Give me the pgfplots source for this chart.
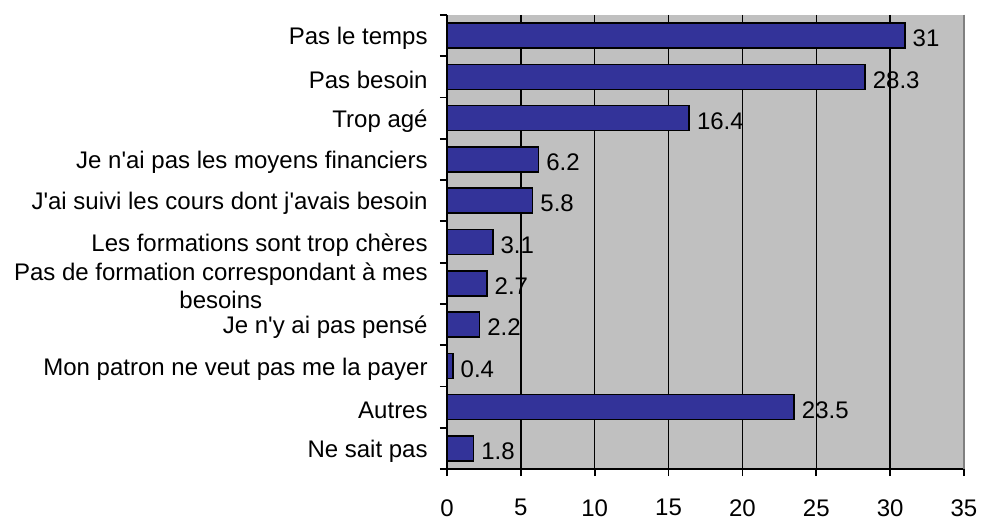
\documentclass[border=0pt]{standalone}
\usepackage{pgfplots}
\pgfplotsset{compat=1.18}
\usepackage{fontspec}
\setmainfont{Liberation Sans}
\definecolor{barblue}{HTML}{333399}
\definecolor{bgray}{HTML}{C0C0C0}
\definecolor{edgegray}{HTML}{808080}
\newcommand{\lbl}{\fontsize{12pt}{14pt}\selectfont}
\begin{document}
\begin{tikzpicture}
\useasboundingbox (-223.5pt,-25pt) rectangle (267pt,234.5pt);
\begin{axis}[
  at={(0,0)}, anchor=south west,
  scale only axis, width=258.5pt, height=227pt,
  xbar, bar width=12.5pt,
  xmin=0, xmax=35, ymin=-0.5, ymax=10.5, y dir=reverse,
  axis background/.style={fill=bgray},
  xtick={0,5,...,35},
  minor xtick={0,5,...,35},
  ytick={0,...,10},
  minor ytick={-0.5,0.5,...,10.5},
  yticklabels={Pas le temps, Pas besoin, Trop agé, Je n\textquotesingle ai pas les moyens financiers, J\textquotesingle ai suivi les cours dont j\textquotesingle avais besoin, Les formations sont trop chères, {Pas de formation correspondant à mes\\besoins}, Je n\textquotesingle y ai pas pensé, Mon patron ne veut pas me la payer, Autres, Ne sait pas},
  major tick length=0pt,
  minor tick length=3.5pt,
  tick align=outside,
  tick style={black, line width=0.9pt},
  axis x line*=bottom, axis y line*=left,
  axis line style={black, line width=1pt},
  xmajorgrids=true,
  major grid style={black, line width=0.75pt},
  /pgf/number format/assume math mode=true,
  yticklabel style={font=\lbl, anchor=east, align=center, inner sep=0pt, xshift=-9.5pt, yshift=-1.5pt},
  xticklabel style={font=\lbl, anchor=north, inner sep=0pt, yshift=-15pt},
  nodes near coords,
  nodes near coords style={font=\lbl, anchor=west, inner sep=0pt, xshift=3.5pt, yshift=-1.5pt, black},
  clip=false,
]
\addplot[fill=barblue, draw=black, line width=0.8pt] coordinates {
  (31,0) (28.3,1) (16.4,2) (6.2,3) (5.8,4) (3.1,5) (2.7,6) (2.2,7) (0.4,8) (23.5,9) (1.8,10)
};
\draw[edgegray, line width=1pt] (axis cs:35,-0.5) -- (axis cs:35,10.5);
\end{axis}
\end{tikzpicture}
\end{document}
